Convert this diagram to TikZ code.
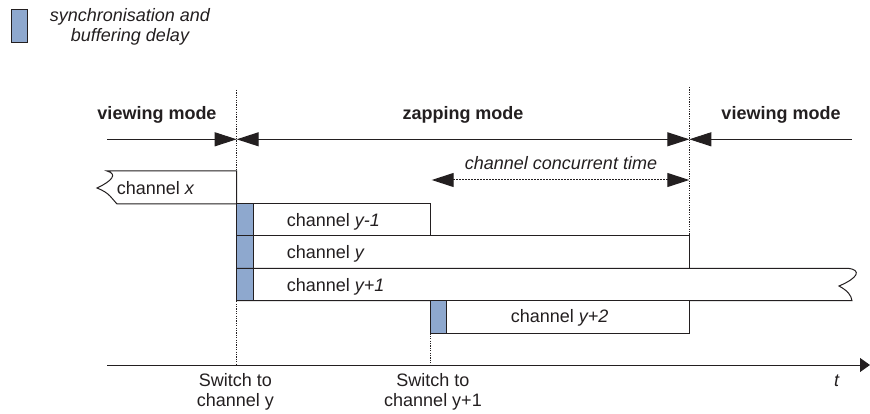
\documentclass[tikz,border=0pt]{standalone}
\usepackage{fontspec}
\setmainfont{Liberation Sans}
\usetikzlibrary{arrows.meta}
\definecolor{syncblue}{RGB}{142,168,206}
\definecolor{ink}{RGB}{35,31,32}
\tikzset{
  lbl/.style={inner sep=0pt, text=ink, font=\fontsize{18}{20}\selectfont},
  modelbl/.style={lbl, font=\fontsize{18}{20}\selectfont\bfseries, anchor=base},
  chlbl/.style={lbl, anchor=base west},
  chbox/.style={draw=ink, line width=1pt, fill=white},
  syncbox/.style={draw=ink, line width=1pt, fill=syncblue},
  guide/.style={draw=ink, line width=0.8pt, dash pattern=on 1.2pt off 1.2pt},
  modeline/.style={draw=ink, line width=1pt},
  tip/.tip={Triangle[length=22pt,width=14pt]},
  concline/.style={draw=ink, line width=1pt, dash pattern=on 1.5pt off 1.5pt}
}
\begin{document}
\begin{tikzpicture}[x=1pt,y=-1pt]
\useasboundingbox (0,0) rectangle (870,414);

% legend (base anchor = baseline of last line)
\draw[syncbox] (11,10) rectangle (27,43);
\node[lbl, align=center, font=\fontsize{18}{19.5}\selectfont\itshape, anchor=base] (legend) at (130,41.2) {synchronisation and\\buffering delay};

% named coordinates
\coordinate (s1top) at (236.7,90);
\coordinate (s1bot) at (236.7,365);
\coordinate (s2top) at (430.7,333.3);
\coordinate (s2bot) at (430.7,365);
\coordinate (e1top) at (689.3,87);
\coordinate (e1bot) at (689.3,236);
\coordinate (axisL) at (107,365);
\coordinate (axisR) at (870,365);
\coordinate (mL) at (107,139.3);
\coordinate (mA) at (236.7,139.3);
\coordinate (mB) at (689.3,139.3);
\coordinate (mR) at (851.7,139.3);
\coordinate (cA) at (431.7,180);
\coordinate (cB) at (689.3,180);

% guide lines
\draw[guide] (s1top) -- (s1bot);
\draw[guide] (e1top) -- (e1bot);
\draw[guide] (s2top) -- (s2bot);

% mode labels
\node[modelbl] (view1) at (157,119.3) {viewing mode};
\node[modelbl] (zap) at (463,119.3) {zapping mode};
\node[modelbl] (view2) at (781,119.3) {viewing mode};

% mode arrows
\draw[modeline, -{tip}] (mL) -- (mA);
\draw[modeline, {tip}-{tip}] (mA) -- (mB);
\draw[modeline, {tip}-] (mB) -- (mR);

% concurrent time
\node[lbl, font=\fontsize{18}{20}\selectfont\itshape, anchor=base] (conc) at (561,170) {channel concurrent time};
\draw[concline, {tip}-{tip}] (cA) -- (cB);

% channel x
\draw[chbox] (107,171) -- (236.7,171) -- (236.7,204) -- (117,204)
  .. controls (112,199) and (110,193) .. (97,188)
  .. controls (112,181) and (118,174) .. cycle;
\node[chlbl] (chx) at (116.7,195) {channel \textit{x}};

% channel y-1
\draw[chbox] (236.7,204) rectangle (430.7,236);
\draw[syncbox] (236.7,204) rectangle (253.3,236);
\node[chlbl] (chy1) at (286.7,226.7) {channel \textit{y-1}};

% channel y
\draw[chbox] (236.7,236) rectangle (689.3,268.3);
\draw[syncbox] (236.7,236) rectangle (253.3,268.3);
\node[chlbl] (chy) at (286.7,258.7) {channel \textit{y}};

% channel y+1
\draw[chbox] (236.7,268.3) -- (848,268.3)
  .. controls (862,270) and (858,278) .. (839,286)
  .. controls (848,291) and (851,295) .. (852,300.7)
  -- (236.7,300.7) -- cycle;
\draw[syncbox] (236.7,268.3) rectangle (253.3,300.7);
\node[chlbl] (chyp1) at (286.7,291) {channel \textit{y+1}};

% channel y+2
\draw[chbox] (430.7,300.7) rectangle (689.3,333.3);
\draw[syncbox] (430.7,300.7) rectangle (446.7,333.3);
\node[chlbl] (chyp2) at (510.7,322) {channel \textit{y+2}};

% time axis
\draw[modeline, -{Triangle[length=10pt,width=14pt]}] (axisL) -- (axisR);
\node[lbl, font=\fontsize{18}{20}\selectfont\itshape, anchor=base] (t) at (836.7,386.7) {t};

% switch labels (base anchor = baseline of last line)
\node[lbl, align=center, font=\fontsize{18}{19.5}\selectfont, anchor=base] (sw1) at (235.3,406.2) {Switch to\\channel y};
\node[lbl, align=center, font=\fontsize{18}{19.5}\selectfont, anchor=base] (sw2) at (433,406.2) {Switch to\\channel y+1};
\end{tikzpicture}
\end{document}
